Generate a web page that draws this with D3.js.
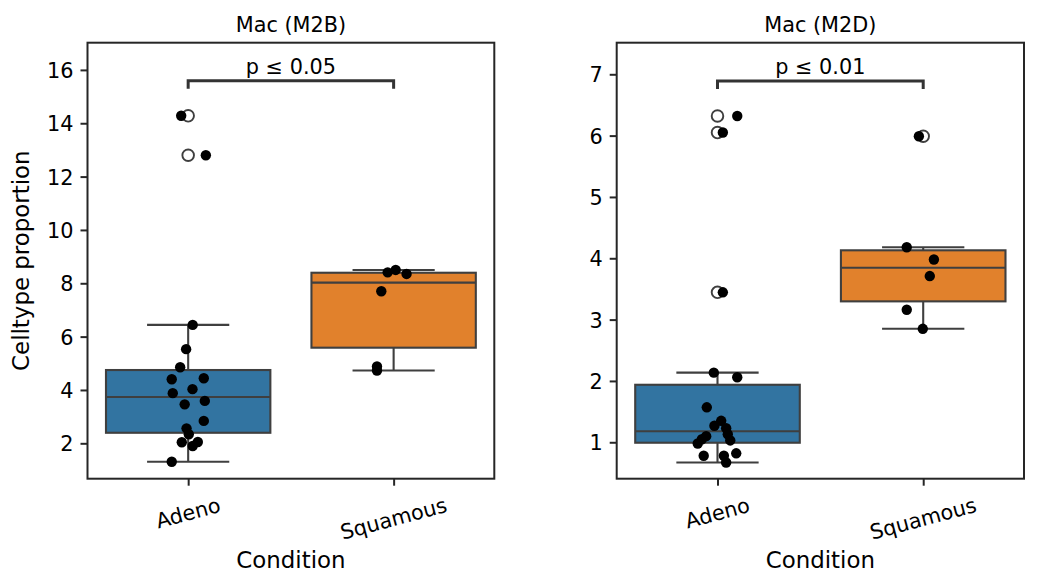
<!DOCTYPE html>
<html><head><meta charset="utf-8">
<script src="https://cdn.jsdelivr.net/npm/d3@7"></script>
<style>
body{margin:0;background:#fff}
svg{display:block;font-family:"DejaVu Sans",sans-serif}
</style>
</head><body>
<svg id="chart" width="1039" height="588"></svg>
<script>
// ---------- data ----------
const categories = ["Adeno", "Squamous"];
const panelTitles = ["Mac (M2B)", "Mac (M2D)"];
const yLabel = "Celltype proportion";
const xLabel = "Condition";

const m2bAdeno    = [14.28, 12.80, 6.44, 5.53, 4.85, 4.40, 4.44, 4.03, 3.88, 3.46, 3.59, 2.84, 2.56, 2.34, 2.04, 1.90, 2.05, 1.31];
const m2bSquamous = [8.41, 8.50, 8.35, 7.70, 4.88, 4.73];
const m2dAdeno    = [6.32, 6.05, 3.445, 2.135, 2.06, 1.57, 1.35, 1.27, 1.23, 1.13, 1.10, 1.05, 0.98, 1.03, 0.78, 0.78, 0.82, 0.67];
const m2dSquamous = [5.99, 4.18, 3.98, 3.71, 3.16, 2.85];

// strip-plot jitter (fraction of category spacing)
const m2bAdenoJitter    = [-0.034, 0.086, 0.022, -0.010, -0.039, -0.080, 0.076, 0.021, -0.075, -0.017, 0.081, 0.076, -0.008, 0.003, -0.031, 0.022, 0.047, -0.080];
const m2bSquamousJitter = [-0.029, 0.010, 0.063, -0.060, -0.081, -0.081];
const m2dAdenoJitter    = [0.096, 0.026, 0.026, -0.018, 0.096, -0.052, 0.018, -0.015, 0.042, 0.050, -0.055, -0.076, -0.096, 0.062, -0.067, 0.031, 0.091, 0.042];
const m2dSquamousJitter = [-0.021, -0.080, 0.052, 0.032, -0.080, -0.002];

const m2bTicks = [2, 4, 6, 8, 10, 12, 14, 16];
const m2dTicks = [1, 2, 3, 4, 5, 6, 7];
const m2bDomain = [0.673, 17.02];
const m2dDomain = [0.406, 7.515];

const pLabels = ["p \u2264 0.05", "p \u2264 0.01"];
const m2bBracket = [15.29, 15.59];
const m2dBracket = [6.76, 6.89];

const boxColors = ["#3274a1", "#e1812c"];

// ---------- layout ----------
const svg = d3.select("#chart");
const yTop = 42.7, yBottom = 478.7;
const panels = [
  {x0: 87.5, x1: 494.3, title: panelTitles[0], groups: [m2bAdeno, m2bSquamous], jit: [m2bAdenoJitter, m2bSquamousJitter], ticks: m2bTicks, domain: m2bDomain, p: pLabels[0], bracket: m2bBracket, ylab: true},
  {x0: 616.7, x1: 1024, title: panelTitles[1], groups: [m2dAdeno, m2dSquamous], jit: [m2dAdenoJitter, m2dSquamousJitter], ticks: m2dTicks, domain: m2dDomain, p: pLabels[1], bracket: m2dBracket, ylab: false}
];
const ink = "#3f3f3f";
const FS = 20.8, LFS = 22.9;

panels.forEach(P => {
  const g = svg.append("g");
  const x = d3.scaleLinear().domain([-0.49, 1.49]).range([P.x0, P.x1]);
  const y = d3.scaleLinear().domain(P.domain).range([yBottom, yTop]);

  // boxes
  P.groups.forEach((vals, i) => {
    const s = vals.slice().sort(d3.ascending);
    const q1 = d3.quantileSorted(s, 0.25), q2 = d3.quantileSorted(s, 0.5), q3 = d3.quantileSorted(s, 0.75);
    const iqr = q3 - q1;
    const inside = s.filter(v => v >= q1 - 1.5 * iqr && v <= q3 + 1.5 * iqr);
    const lo = d3.min(inside), hi = d3.max(inside);
    const fliers = s.filter(v => v < q1 - 1.5 * iqr || v > q3 + 1.5 * iqr);
    const bg = g.append("g").attr("stroke", ink).attr("stroke-width", 2.1);
    bg.append("line").attr("x1", x(i)).attr("x2", x(i)).attr("y1", y(q1)).attr("y2", y(lo));
    bg.append("line").attr("x1", x(i)).attr("x2", x(i)).attr("y1", y(q3)).attr("y2", y(hi));
    bg.append("line").attr("x1", x(i - 0.2)).attr("x2", x(i + 0.2)).attr("y1", y(lo)).attr("y2", y(lo));
    bg.append("line").attr("x1", x(i - 0.2)).attr("x2", x(i + 0.2)).attr("y1", y(hi)).attr("y2", y(hi));
    bg.append("rect").attr("x", x(i - 0.4)).attr("width", x(i + 0.4) - x(i - 0.4))
      .attr("y", y(q3)).attr("height", y(q1) - y(q3)).attr("fill", boxColors[i]);
    bg.append("line").attr("x1", x(i - 0.4)).attr("x2", x(i + 0.4)).attr("y1", y(q2)).attr("y2", y(q2));
    bg.selectAll("circle.fl").data(fliers).enter().append("circle")
      .attr("cx", x(i)).attr("cy", d => y(d)).attr("r", 5.8)
      .attr("fill", "none").attr("stroke-width", 1.9);
  });

  // strip points
  P.groups.forEach((vals, i) => {
    g.append("g").selectAll("circle").data(vals).enter().append("circle")
      .attr("cx", (d, k) => x(i + P.jit[i][k])).attr("cy", d => y(d))
      .attr("r", 5.2).attr("fill", "#000");
  });

  // frame
  g.append("rect").attr("x", P.x0).attr("y", yTop).attr("width", P.x1 - P.x0).attr("height", yBottom - yTop)
    .attr("fill", "none").attr("stroke", "#262626").attr("stroke-width", 2);

  // y axis
  const ya = g.append("g").attr("transform", `translate(${P.x0},0)`)
    .call(d3.axisLeft(y).tickValues(P.ticks).tickSize(7).tickPadding(7).tickFormat(d3.format("d")));
  ya.select(".domain").remove();
  ya.selectAll(".tick line").attr("stroke", "#262626").attr("stroke-width", 2);
  ya.selectAll(".tick text").attr("font-size", FS).attr("fill", "#000").attr("font-family", "DejaVu Sans").attr("dy", "0.36em");

  // x axis ticks
  const xa = g.append("g").attr("transform", `translate(0,${yBottom})`)
    .call(d3.axisBottom(x).tickValues([0, 1]).tickSize(7).tickFormat(""));
  xa.select(".domain").remove();
  xa.selectAll(".tick line").attr("stroke", "#262626").attr("stroke-width", 2);

  // rotated category labels
  const ang = 15 * Math.PI / 180;
  categories.forEach((c, i) => {
    const t = g.append("text").text(c).attr("font-size", FS).attr("text-anchor", "middle").attr("fill", "#000");
    const b = t.node().getBBox();
    const H = b.width * Math.sin(ang) + b.height * Math.cos(ang);
    const cy = yBottom + 14.5 + H / 2;
    t.attr("y", -(b.y + b.height / 2)).attr("transform", `translate(${x(i)},${cy}) rotate(-15)`);
  });

  // x label
  g.append("text").text(xLabel).attr("x", (P.x0 + P.x1) / 2).attr("y", 568.3)
    .attr("text-anchor", "middle").attr("font-size", LFS).attr("fill", "#000");

  // title
  g.append("text").text(P.title).attr("x", (P.x0 + P.x1) / 2).attr("y", 31.7)
    .attr("text-anchor", "middle").attr("font-size", FS).attr("fill", "#000");

  // bracket
  g.append("path").attr("d", d3.line()([[x(0), y(P.bracket[0])], [x(0), y(P.bracket[1])], [x(1), y(P.bracket[1])], [x(1), y(P.bracket[0])]]))
    .attr("fill", "none").attr("stroke", "#333").attr("stroke-width", 3);
  g.append("text").text(P.p).attr("x", (x(0) + x(1)) / 2).attr("y", 74)
    .attr("text-anchor", "middle").attr("font-size", FS).attr("fill", "#000");

  if (P.ylab) {
    g.append("text").text(yLabel).attr("transform", `translate(28.5,${(yTop + yBottom) / 2}) rotate(-90)`)
      .attr("text-anchor", "middle").attr("font-size", LFS).attr("fill", "#000");
  }
});
</script>
</body></html>
